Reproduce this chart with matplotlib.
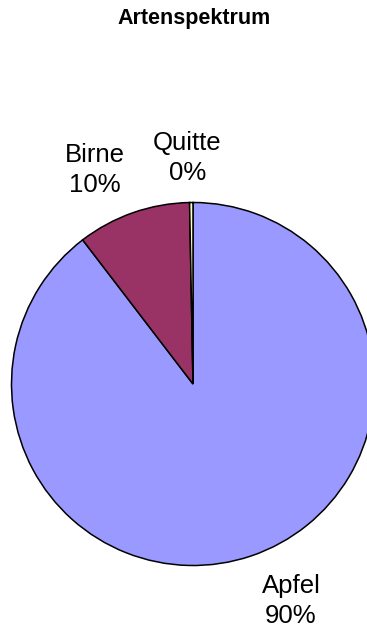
import matplotlib
matplotlib.use("Agg")
import matplotlib.pyplot as plt

title = "Artenspektrum"
categories = ["Apfel", "Birne", "Quitte"]
values = [89.6, 10.1, 0.3]
pct_labels = ["90%", "10%", "0%"]
colors = ["#9999FF", "#993366", "#FFFFCC"]

# label centres in units of pie radius (layout)
label_pos = [(0.54, -1.195), (-0.54, 1.18), (-0.03, 1.245)]

plt.rcParams['font.family'] = ['Liberation Sans', 'DejaVu Sans']

W, H = 367, 633
fig = plt.figure(figsize=(W / 100, H / 100), dpi=100)
cx, cy, R = 193, 384, 181.5
ax = fig.add_axes([(cx - R) / W, (H - cy - R) / H, 2 * R / W, 2 * R / H])
ax.pie(values, colors=colors, startangle=90, counterclock=False,
       wedgeprops=dict(edgecolor="black", linewidth=1.1), radius=1.0)
ax.set_xlim(-1, 1)
ax.set_ylim(-1, 1)
ax.set_aspect("equal")
ax.axis("off")

for cat, pl, (x, y) in zip(categories, pct_labels, label_pos):
    ax.text(x, y, f"{cat}\n{pl}", ha="center", va="center", fontsize=18.5,
            linespacing=1.35, clip_on=False)

fig.text(194 / W, 1 - 18.5 / H, title, ha="center", va="center",
         fontsize=15.5, fontweight="bold")

fig.savefig("out.png", dpi=100)
